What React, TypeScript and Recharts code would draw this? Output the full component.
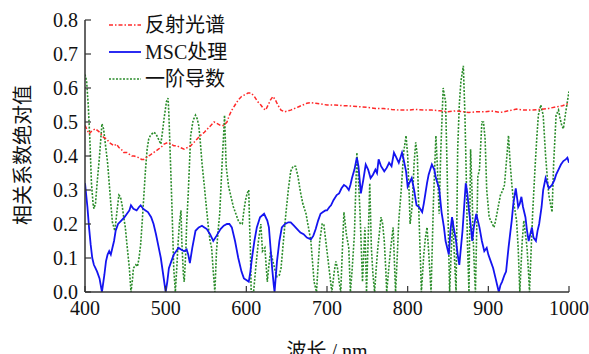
import { LineChart, Line, XAxis, YAxis } from 'recharts';

// [wavelength nm, |r|]
const reflSpectrum: number[][] = [
  [400, 0.49], [403, 0.475], [405, 0.465], [409, 0.475], [413, 0.48], [418, 0.47], [423, 0.455], [427, 0.45],
  [430, 0.44], [433, 0.435], [436, 0.43], [439, 0.435], [442, 0.425], [445, 0.42], [448, 0.41], [452, 0.41],
  [455, 0.405], [458, 0.40], [461, 0.40], [464, 0.397], [467, 0.395], [470, 0.39], [473, 0.39], [476, 0.395],
  [479, 0.40], [482, 0.405], [485, 0.41], [488, 0.415], [491, 0.42], [494, 0.425], [498, 0.435], [503, 0.44],
  [507, 0.435], [510, 0.43], [514, 0.43], [518, 0.425], [523, 0.42], [527, 0.425], [531, 0.43], [535, 0.44],
  [539, 0.45], [543, 0.46], [548, 0.47], [552, 0.48], [556, 0.49], [560, 0.50], [564, 0.495], [568, 0.49],
  [572, 0.49], [576, 0.50], [579, 0.52], [582, 0.535], [586, 0.55], [590, 0.565], [594, 0.575], [598, 0.58],
  [602, 0.585], [606, 0.585], [610, 0.575], [614, 0.56], [618, 0.55], [621, 0.54], [624, 0.535], [627, 0.55],
  [630, 0.565], [633, 0.575], [636, 0.565], [639, 0.55], [643, 0.535], [647, 0.53], [651, 0.532], [655, 0.535],
  [660, 0.54], [665, 0.545], [670, 0.55], [675, 0.555], [680, 0.557], [686, 0.555], [692, 0.553], [700, 0.55],
  [710, 0.55], [720, 0.548], [730, 0.547], [740, 0.545], [750, 0.543], [760, 0.54], [770, 0.54], [780, 0.537],
  [790, 0.535], [800, 0.535], [810, 0.537], [820, 0.535], [830, 0.535], [840, 0.533], [850, 0.53], [860, 0.533],
  [870, 0.53], [876, 0.528], [885, 0.53], [895, 0.53], [905, 0.532], [915, 0.528], [925, 0.533], [935, 0.538],
  [945, 0.535], [955, 0.535], [965, 0.537], [975, 0.54], [985, 0.545], [992, 0.548], [1000, 0.555],
];

const mscSpectrum: number[][] = [
  [400, 0.32], [403, 0.25], [405, 0.19], [407, 0.14], [409, 0.10], [411, 0.08], [413, 0.07], [415, 0.06],
  [418, 0.04], [421, 0.0], [424, 0.05], [426, 0.09], [428, 0.11], [430, 0.12], [432, 0.11], [434, 0.13],
  [436, 0.15], [438, 0.18], [441, 0.20], [445, 0.21], [449, 0.22], [452, 0.23], [455, 0.24], [457, 0.255],
  [460, 0.245], [464, 0.24], [467, 0.25], [469, 0.255], [472, 0.245], [475, 0.24], [478, 0.235], [482, 0.22],
  [485, 0.2], [488, 0.17], [491, 0.135], [494, 0.10], [497, 0.05], [500, 0.0], [502, 0.03], [504, 0.07],
  [507, 0.09], [510, 0.11], [513, 0.12], [516, 0.13], [519, 0.125], [523, 0.12], [526, 0.125], [528, 0.11],
  [530, 0.085], [533, 0.13], [537, 0.18], [541, 0.19], [545, 0.195], [548, 0.19], [551, 0.185], [555, 0.17],
  [559, 0.15], [563, 0.165], [568, 0.185], [572, 0.195], [576, 0.20], [579, 0.2], [582, 0.19], [586, 0.15],
  [590, 0.10], [594, 0.06], [597, 0.04], [600, 0.035], [603, 0.03], [605, 0.06], [607, 0.10], [610, 0.15],
  [613, 0.19], [617, 0.22], [622, 0.23], [626, 0.21], [628, 0.19], [630, 0.13], [632, 0.07], [634, 0.02],
  [635, 0.0], [636, 0.03], [638, 0.09], [641, 0.15], [644, 0.19], [648, 0.2], [652, 0.205], [655, 0.205],
  [659, 0.195], [663, 0.185], [667, 0.175], [671, 0.17], [675, 0.16], [680, 0.155], [683, 0.165], [686, 0.185],
  [689, 0.21], [692, 0.23], [695, 0.235], [698, 0.24], [700, 0.24], [703, 0.25], [705, 0.255], [708, 0.27],
  [712, 0.285], [715, 0.29], [718, 0.305], [721, 0.315], [724, 0.31], [727, 0.30], [729, 0.315], [731, 0.335],
  [734, 0.36], [737, 0.395], [739, 0.37], [742, 0.29], [745, 0.33], [748, 0.375], [751, 0.36], [754, 0.335],
  [757, 0.345], [760, 0.36], [762, 0.35], [764, 0.39], [767, 0.37], [771, 0.355], [774, 0.365], [777, 0.38],
  [780, 0.37], [783, 0.41], [786, 0.395], [789, 0.38], [791, 0.395], [793, 0.41], [795, 0.39], [798, 0.355],
  [800, 0.31], [802, 0.32], [805, 0.335], [808, 0.30], [811, 0.255], [814, 0.25], [818, 0.235], [820, 0.26],
  [822, 0.29], [824, 0.32], [826, 0.345], [828, 0.36], [830, 0.375], [833, 0.36], [835, 0.335], [837, 0.32],
  [839, 0.305], [842, 0.235], [845, 0.19], [847, 0.15], [849, 0.13], [851, 0.11], [853, 0.18], [855, 0.22],
  [857, 0.19], [860, 0.15], [862, 0.11], [864, 0.08], [866, 0.13], [868, 0.18], [870, 0.25], [872, 0.32],
  [874, 0.29], [876, 0.24], [878, 0.2], [880, 0.15], [882, 0.19], [885, 0.23], [887, 0.21], [889, 0.19],
  [892, 0.15], [895, 0.12], [898, 0.13], [900, 0.11], [903, 0.09], [906, 0.07], [909, 0.04], [911, 0.02],
  [913, 0.0], [915, 0.02], [917, 0.03], [920, 0.05], [922, 0.06], [925, 0.13], [927, 0.17], [929, 0.21],
  [931, 0.26], [934, 0.305], [936, 0.27], [937, 0.25], [939, 0.26], [941, 0.28], [943, 0.25], [946, 0.22],
  [948, 0.18], [950, 0.15], [952, 0.17], [954, 0.19], [956, 0.16], [959, 0.15], [961, 0.18], [963, 0.2],
  [966, 0.25], [968, 0.3], [971, 0.335], [973, 0.32], [975, 0.305], [977, 0.31], [979, 0.315], [982, 0.33],
  [984, 0.345], [987, 0.36], [990, 0.375], [993, 0.385], [996, 0.39], [998, 0.395], [1000, 0.38],
];

const derivSpectrum: number[][] = [
  [400, 0.64], [402, 0.62], [404, 0.55], [406, 0.45], [408, 0.32], [410, 0.26], [411, 0.245], [413, 0.26],
  [415, 0.32], [418, 0.40], [421, 0.495], [423, 0.48], [425, 0.44], [428, 0.38], [430, 0.32], [432, 0.26],
  [434, 0.205], [437, 0.18], [440, 0.245], [442, 0.285], [444, 0.28], [446, 0.255], [448, 0.22], [450, 0.19],
  [452, 0.14], [455, 0.07], [457, 0.0], [459, 0.04], [460, 0.07], [463, 0.08], [465, 0.075], [467, 0.1],
  [469, 0.14], [471, 0.21], [473, 0.285], [475, 0.36], [477, 0.42], [479, 0.45], [481, 0.46], [485, 0.47],
  [488, 0.465], [491, 0.45], [494, 0.435], [496, 0.47], [498, 0.51], [501, 0.56], [503, 0.57], [504, 0.52],
  [506, 0.38], [508, 0.235], [510, 0.07], [512, 0.0], [514, 0.08], [515, 0.13], [517, 0.2], [519, 0.24],
  [520, 0.15], [522, 0.05], [523, 0.03], [525, 0.12], [526, 0.2], [528, 0.29], [531, 0.46], [534, 0.505],
  [537, 0.52], [539, 0.51], [541, 0.49], [543, 0.44], [545, 0.38], [548, 0.31], [550, 0.26], [553, 0.19],
  [555, 0.15], [557, 0.13], [559, 0.06], [561, 0.0], [563, 0.12], [565, 0.18], [567, 0.23], [569, 0.33],
  [570, 0.38], [572, 0.47], [573, 0.52], [575, 0.37], [578, 0.31], [581, 0.28], [584, 0.25], [587, 0.23],
  [590, 0.21], [593, 0.2], [595, 0.2], [597, 0.24], [599, 0.27], [601, 0.29], [603, 0.30], [604, 0.2],
  [605, 0.13], [606, 0.0], [609, 0.0], [612, 0.08], [615, 0.15], [618, 0.2], [620, 0.12], [623, 0.13],
  [626, 0.03], [628, 0.08], [630, 0.12], [632, 0.1], [634, 0.08], [636, 0.06], [638, 0.045], [641, 0.05],
  [643, 0.07], [646, 0.15], [649, 0.23], [652, 0.3], [655, 0.355], [658, 0.37], [661, 0.37], [664, 0.34],
  [667, 0.295], [670, 0.26], [674, 0.23], [677, 0.19], [680, 0.15], [682, 0.09], [684, 0.03], [687, 0.0],
  [689, 0.08], [691, 0.15], [694, 0.2], [696, 0.2], [699, 0.14], [702, 0.08], [704, 0.04], [706, 0.0],
  [709, 0.06], [711, 0.09], [713, 0.07], [715, 0.03], [717, 0.0], [719, 0.12], [721, 0.235], [724, 0.17],
  [727, 0.13], [729, 0.0], [731, 0.06], [734, 0.17], [737, 0.41], [739, 0.33], [741, 0.23], [744, 0.03],
  [747, 0.19], [749, 0.0], [751, 0.15], [753, 0.32], [755, 0.13], [757, 0.05], [759, 0.0], [761, 0.07],
  [763, 0.13], [767, 0.22], [769, 0.2], [771, 0.15], [773, 0.06], [774, 0.0], [777, 0.08], [779, 0.13],
  [782, 0.19], [784, 0.06], [785, 0.0], [787, 0.1], [789, 0.21], [792, 0.3], [795, 0.41], [798, 0.46],
  [800, 0.40], [802, 0.28], [803, 0.2], [805, 0.24], [806, 0.27], [808, 0.38], [810, 0.44], [812, 0.40],
  [814, 0.225], [816, 0.08], [817, 0.0], [820, 0.11], [822, 0.16], [824, 0.19], [826, 0.12], [829, 0.0],
  [832, 0.27], [835, 0.46], [837, 0.36], [839, 0.23], [841, 0.41], [844, 0.60], [847, 0.56], [849, 0.35],
  [850, 0.23], [852, 0.0], [854, 0.12], [856, 0.21], [858, 0.1], [860, 0.0], [862, 0.42], [864, 0.55],
  [866, 0.62], [869, 0.665], [871, 0.52], [873, 0.30], [874, 0.15], [876, 0.0], [878, 0.42], [880, 0.28],
  [881, 0.17], [883, 0.05], [884, 0.0], [887, 0.34], [889, 0.36], [892, 0.50], [894, 0.5], [896, 0.45],
  [898, 0.30], [901, 0.22], [903, 0.21], [905, 0.2], [907, 0.19], [909, 0.21], [911, 0.235], [913, 0.26],
  [915, 0.285], [918, 0.3], [920, 0.315], [923, 0.40], [925, 0.46], [927, 0.38], [929, 0.32], [931, 0.27],
  [933, 0.24], [935, 0.21], [937, 0.13], [939, 0.0], [942, 0.15], [944, 0.21], [946, 0.17], [948, 0.13],
  [950, 0.05], [951, 0.0], [953, 0.12], [955, 0.235], [958, 0.37], [960, 0.45], [962, 0.52], [965, 0.55],
  [968, 0.52], [971, 0.40], [973, 0.34], [975, 0.285], [977, 0.26], [979, 0.235], [981, 0.38], [984, 0.52],
  [987, 0.535], [989, 0.51], [991, 0.49], [993, 0.48], [996, 0.53], [998, 0.56], [1000, 0.59],
];

const xTicks = [400, 500, 600, 700, 800, 900, 1000];
const yTicks = [0, 0.1, 0.2, 0.3, 0.4, 0.5, 0.6, 0.7, 0.8];
const seriesNames = ['反射光谱', 'MSC处理', '一阶导数'];

const FONT = "'Times New Roman', 'Liberation Serif', Times, 'Noto Sans CJK SC', serif";
const RED = '#ff2a2a';
const BLUE = '#1414f0';
const GREEN = '#2a8c2a';

const toPoints = (rows: number[][]) => rows.map(([wl, v]) => ({ wl, v }));

const legendStyles = [
  { stroke: RED, dash: '4 2 1.5 2', width: 1.5 },
  { stroke: BLUE, dash: undefined, width: 1.8 },
  { stroke: GREEN, dash: '2 1.5', width: 1.6 },
];

function LegendBox() {
  return (
    <svg width={140} height={80} style={{ position: 'absolute', left: 105, top: 12, fontFamily: FONT }}>
      {seriesNames.map((name, i) => {
        const y = 13 + i * 27;
        const s = legendStyles[i];
        return (
          <g key={name}>
            <line x1={4} x2={36} y1={y} y2={y} stroke={s.stroke} strokeWidth={s.width} strokeDasharray={s.dash} />
            <text x={40} y={y} dominantBaseline="central" fontSize={20} style={{ fontFamily: FONT }} fill="#111">
              {name}
            </text>
          </g>
        );
      })}
    </svg>
  );
}

// axis titles sit at fixed spots, like the original figure
const YTitle = () => (
  <text x={23} y={155} transform="rotate(-90 23 155)" textAnchor="middle" dominantBaseline="central"
    fontSize={20} style={{ fontFamily: FONT }} fill="#111">
    相关系数绝对值
  </text>
);

const XTitle = () => (
  <text x={327} y={351} textAnchor="middle" dominantBaseline="central" fontSize={20} style={{ fontFamily: FONT }} fill="#111">
    波长 / nm
  </text>
);

const tickStyle = { fill: '#111', fontSize: 20, fontFamily: FONT, style: { fontFamily: FONT } };

export default function App() {
  return (
    <div style={{ position: 'absolute', left: 0, top: 0, width: 589, height: 354, background: '#fff', overflow: 'hidden', fontFamily: FONT }}>
      <LineChart width={589} height={354} margin={{ top: 20, right: 20, bottom: 0, left: 0 }} style={{ fontFamily: FONT }}>
        <XAxis
          type="number"
          dataKey="wl"
          domain={[400, 1000]}
          ticks={xTicks}
          allowDataOverflow
          height={62}
          tickSize={-6}
          tickMargin={15}
          axisLine={{ stroke: '#333', strokeWidth: 1.5 }}
          tickLine={{ stroke: '#333', strokeWidth: 1.2 }}
          tick={tickStyle}
          label={<XTitle />}
        />
        <YAxis
          type="number"
          dataKey="v"
          domain={[0, 0.8]}
          ticks={yTicks}
          allowDataOverflow
          width={85}
          tickSize={-6}
          tickMargin={13}
          tickFormatter={(v: number) => v.toFixed(1)}
          axisLine={{ stroke: '#333', strokeWidth: 1.5 }}
          tickLine={{ stroke: '#333', strokeWidth: 1.2 }}
          tick={tickStyle}
          label={<YTitle />}
        />
        <Line data={toPoints(derivSpectrum)} dataKey="v" stroke={GREEN} strokeWidth={1.6} strokeDasharray="2 1.5" dot={false} isAnimationActive={false} />
        <Line data={toPoints(mscSpectrum)} dataKey="v" stroke={BLUE} strokeWidth={1.8} dot={false} isAnimationActive={false} />
        <Line data={toPoints(reflSpectrum)} dataKey="v" stroke={RED} strokeWidth={1.5} strokeDasharray="4 2 1.5 2" dot={false} isAnimationActive={false} />
      </LineChart>
      <LegendBox />
    </div>
  );
}
